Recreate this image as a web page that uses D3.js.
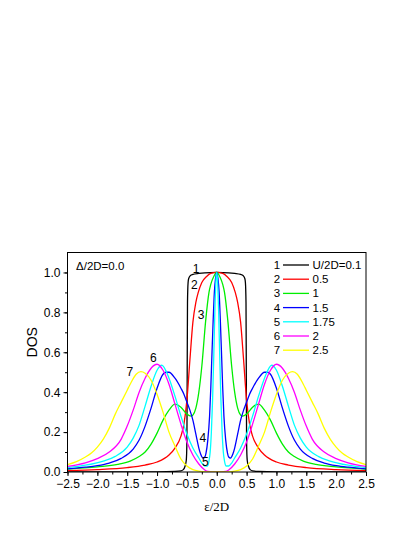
<!DOCTYPE html>
<html>
<head>
<meta charset="utf-8">
<script src="https://cdn.jsdelivr.net/npm/d3@7"></script>
<style>
  html, body { margin: 0; padding: 0; background: #fff; }
  svg { display: block; }
  text { font-family: "Liberation Sans", Arial, sans-serif; fill: #000; }
</style>
</head>
<body>
<svg id="vis" width="415" height="537"></svg>
<script>
// curve numbers and their U/2D values (legend)
const curveIds = ["1", "2", "3", "4", "5", "6", "7"];
const uLabels = ["U/2D=0.1", "0.5", "1", "1.5", "1.75", "2", "2.5"];

// DOS for eps/2D >= 0 (curves are symmetric)
const dosU01 = [[0, 1.0], [0.2, 0.998], [0.3, 0.995], [0.4, 0.99], [0.44, 0.985], [0.47, 0.97], [0.48, 0.95],
  [0.49, 0.85], [0.495, 0.5], [0.5, 0.15], [0.51, 0.06], [0.53, 0.03], [0.56, 0.012], [0.6, 0.006],
  [0.7, 0.003], [1.0, 0.001], [2.5, 0.0]];
const dosU05 = [[0, 1.0], [0.1, 0.995], [0.17, 0.98], [0.25, 0.95], [0.31, 0.9], [0.35, 0.85], [0.4, 0.75],
  [0.45, 0.56], [0.5, 0.36], [0.55, 0.24], [0.6, 0.18], [0.7, 0.12], [0.8, 0.085], [1.0, 0.05],
  [1.2, 0.035], [1.5, 0.022], [2.0, 0.012], [2.5, 0.007]];
const dosU1 = [[0, 1.0], [0.05, 0.98], [0.1, 0.94], [0.13, 0.9], [0.185, 0.76], [0.25, 0.53], [0.3, 0.4],
  [0.35, 0.32], [0.4, 0.285], [0.43, 0.28], [0.5, 0.29], [0.6, 0.325], [0.7, 0.34], [0.8, 0.31],
  [0.9, 0.26], [1.0, 0.195], [1.1, 0.14], [1.2, 0.1], [1.3, 0.078], [1.45, 0.055], [1.66, 0.038],
  [2.0, 0.026], [2.5, 0.015]];
const dosU15 = [[0, 1.0], [0.02, 0.97], [0.04, 0.9], [0.06, 0.76], [0.085, 0.55], [0.1, 0.42], [0.12, 0.28],
  [0.15, 0.16], [0.18, 0.095], [0.2, 0.075], [0.23, 0.07], [0.27, 0.09], [0.3, 0.12], [0.35, 0.19],
  [0.4, 0.26], [0.45, 0.31], [0.5, 0.35], [0.55, 0.39], [0.6, 0.42], [0.7, 0.47], [0.8, 0.5],
  [0.85, 0.5], [0.9, 0.49], [1.0, 0.42], [1.1, 0.32], [1.2, 0.23], [1.3, 0.16], [1.4, 0.115],
  [1.6, 0.068], [1.8, 0.045], [2.0, 0.032], [2.2, 0.024], [2.5, 0.016]];
const dosU175 = [[0, 1.0], [0.015, 0.95], [0.03, 0.82], [0.05, 0.58], [0.07, 0.36], [0.09, 0.2], [0.11, 0.1],
  [0.13, 0.055], [0.16, 0.03], [0.2, 0.03], [0.25, 0.045], [0.3, 0.07], [0.4, 0.12], [0.5, 0.19],
  [0.6, 0.28], [0.7, 0.38], [0.8, 0.47], [0.92, 0.535], [1.0, 0.51], [1.1, 0.43], [1.2, 0.33],
  [1.3, 0.235], [1.4, 0.17], [1.5, 0.125], [1.7, 0.078], [1.9, 0.055], [2.2, 0.034], [2.5, 0.022]];
const dosU2 = [[0, 0.0], [0.15, 0.003], [0.2, 0.01], [0.3, 0.04], [0.4, 0.085], [0.5, 0.15], [0.6, 0.24],
  [0.7, 0.34], [0.8, 0.44], [0.9, 0.51], [1.0, 0.54], [1.1, 0.52], [1.2, 0.47], [1.3, 0.4],
  [1.4, 0.31], [1.5, 0.23], [1.6, 0.165], [1.8, 0.1], [2.0, 0.067], [2.2, 0.046], [2.5, 0.028]];
const dosU25 = [[0, 0.0], [0.2, 0.001], [0.3, 0.004], [0.4, 0.012], [0.5, 0.03], [0.6, 0.065], [0.7, 0.13],
  [0.8, 0.2], [0.9, 0.3], [1.0, 0.39], [1.1, 0.46], [1.2, 0.495], [1.27, 0.503], [1.35, 0.49],
  [1.45, 0.44], [1.5, 0.41], [1.6, 0.35], [1.7, 0.29], [1.8, 0.22], [1.9, 0.165], [2.0, 0.125],
  [2.1, 0.095], [2.2, 0.075], [2.35, 0.052], [2.5, 0.037]];

// curve number labels, placed in data units
const labelAt = [[-0.346, 1.02], [-0.375, 0.937], [-0.262, 0.79], [-0.235, 0.17], [-0.19, 0.053],
  [-1.064, 0.57], [-1.455, 0.5]];

const xTicks = [-2.5, -2.0, -1.5, -1.0, -0.5, 0.0, 0.5, 1.0, 1.5, 2.0, 2.5];
const yTicks = [0.0, 0.2, 0.4, 0.6, 0.8, 1.0];

const halves = [dosU01, dosU05, dosU1, dosU15, dosU175, dosU2, dosU25];
const colors = ["#000000", "#ff0000", "#00ee00", "#0000ff", "#00ffff", "#ff00ff", "#ffff00"];

// mirror the eps>=0 half onto eps<0
const mirror = (half) => half.slice(1).map(([x, y]) => [-x, y]).reverse().concat(half);
const series = halves.map((h, i) => ({ id: curveIds[i], u: uLabels[i], color: colors[i], pts: mirror(h) }));

const margin = { top: 252.5, right: 49, bottom: 65, left: 67.5 };
const W = 415, H = 537;

const svg = d3.select("#vis");

const x = d3.scaleLinear().domain([-2.5, 2.5]).range([margin.left, W - margin.right]);
const y = d3.scaleLinear().domain([0, 1.1]).range([H - margin.bottom, margin.top]);

svg.append("defs").append("clipPath").attr("id", "plot")
  .append("rect")
  .attr("x", x(-2.5)).attr("y", y(1.1))
  .attr("width", x(2.5) - x(-2.5)).attr("height", y(0) - y(1.1));

// minor ticks
svg.append("g")
  .attr("transform", `translate(0,${y(0)})`)
  .call(d3.axisBottom(x).tickValues(d3.range(-2.5, 2.51, 0.25)).tickSize(2.5).tickFormat(""))
  .call(g => g.select(".domain").remove());
svg.append("g")
  .attr("transform", `translate(${x(-2.5)},0)`)
  .call(d3.axisLeft(y).tickValues(d3.range(0, 1.05, 0.1)).tickSize(2.5).tickFormat(""))
  .call(g => g.select(".domain").remove());

// major ticks + labels
svg.append("g")
  .attr("transform", `translate(0,${y(0)})`)
  .call(d3.axisBottom(x).tickValues(xTicks).tickSize(4).tickPadding(3).tickFormat(d3.format(".1f")))
  .call(g => g.select(".domain").remove())
  .call(g => g.selectAll("text").attr("font-size", 12).attr("font-family", "Liberation Sans, Arial, sans-serif"));
svg.append("g")
  .attr("transform", `translate(${x(-2.5)},0)`)
  .call(d3.axisLeft(y).tickValues(yTicks).tickSize(4).tickPadding(3).tickFormat(d3.format(".1f")))
  .call(g => g.select(".domain").remove())
  .call(g => g.selectAll("text").attr("font-size", 12).attr("font-family", "Liberation Sans, Arial, sans-serif"));

// curves
const line = d3.line()
  .x(d => x(d[0]))
  .y(d => y(d[1]))
  .curve(d3.curveMonotoneX);

svg.append("g")
  .attr("clip-path", "url(#plot)")
  .selectAll("path")
  .data(series)
  .join("path")
  .attr("d", d => line(d.pts))
  .attr("fill", "none")
  .attr("stroke", d => d.color)
  .attr("stroke-width", 1.3);

// frame
svg.append("rect")
  .attr("x", x(-2.5)).attr("y", y(1.1))
  .attr("width", x(2.5) - x(-2.5)).attr("height", y(0) - y(1.1))
  .attr("fill", "none").attr("stroke", "#000").attr("stroke-width", 1);

// curve number labels
svg.append("g")
  .selectAll("text")
  .data(series)
  .join("text")
  .attr("x", (d, i) => x(labelAt[i][0]))
  .attr("y", (d, i) => y(labelAt[i][1]))
  .attr("dy", "0.35em")
  .attr("text-anchor", "middle")
  .attr("font-size", 12)
  .text(d => d.id);

// legend
const legend = svg.append("g").attr("transform", "translate(277,265)");
const row = legend.selectAll("g")
  .data(series)
  .join("g")
  .attr("transform", (d, i) => `translate(0,${i * 14.2})`);
row.append("text")
  .attr("text-anchor", "middle")
  .attr("dy", "0.35em")
  .attr("font-size", 11.5)
  .text(d => d.id);
row.append("line")
  .attr("x1", 6).attr("x2", 32)
  .attr("stroke", d => d.color)
  .attr("stroke-width", 1.3);
row.append("text")
  .attr("x", 35.5)
  .attr("dy", "0.35em")
  .attr("font-size", 11.5)
  .text(d => d.u);

// annotation and axis titles
svg.append("text")
  .attr("x", x(-2.5) + 8.5).attr("y", y(1.0) - 2)
  .attr("font-size", 11.5)
  .text("\u0394/2D=0.0");

svg.append("text")
  .attr("transform", `translate(37,${(y(0) + y(1.1)) / 2 - 20}) rotate(-90)`)
  .attr("text-anchor", "middle")
  .attr("font-size", 14)
  .text("DOS");

svg.append("text")
  .attr("x", x(0)).attr("y", 511)
  .attr("text-anchor", "middle")
  .attr("font-size", 13)
  .style("font-family", "'Liberation Serif', 'Times New Roman', serif")
  .text("\u03b5/2D");
</script>
</body>
</html>
